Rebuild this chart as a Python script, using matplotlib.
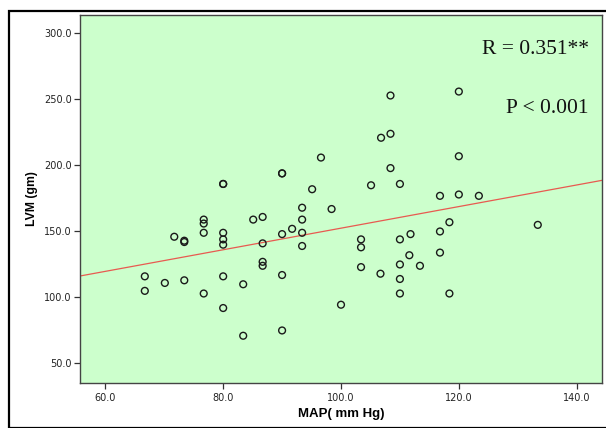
import matplotlib
matplotlib.use("Agg")
import matplotlib.pyplot as plt
from matplotlib.patches import Rectangle

# Data
map_mmhg = [66.7, 66.7, 70.1, 71.7, 73.4, 73.4, 73.4, 76.7, 76.7, 76.7, 76.7,
            80.0, 80.0, 80.0, 80.0, 80.0, 80.0, 80.0, 83.4, 83.4, 85.1, 86.7,
            86.7, 86.7, 86.7, 90.0, 90.0, 90.0, 90.0, 90.0, 91.7, 93.4, 93.4,
            93.4, 93.4, 95.1, 96.6, 98.4, 100.0, 103.4, 103.4, 103.4, 105.1,
            106.7, 106.8, 108.4, 108.4, 108.4, 110.0, 110.0, 110.0, 110.0,
            110.0, 111.8, 111.6, 113.4, 116.8, 116.8, 116.8, 118.4, 118.4,
            120.0, 120.0, 120.0, 123.4, 133.4]
lvm_gm = [116.0, 105.0, 111.0, 146.0, 143.0, 142.0, 113.0, 159.0, 156.0, 149.0, 103.0,
          186.0, 186.0, 149.0, 144.0, 140.0, 116.0, 92.0, 71.0, 110.0, 159.0, 161.0,
          141.0, 127.0, 124.0, 194.0, 194.0, 148.0, 117.0, 75.0, 152.0, 168.0, 159.0,
          149.0, 139.0, 182.0, 206.0, 167.0, 94.5, 144.0, 138.0, 123.0, 185.0,
          118.0, 221.0, 253.0, 224.0, 198.0, 186.0, 144.0, 125.0, 114.0,
          103.0, 148.0, 132.0, 124.0, 177.0, 150.0, 134.0, 157.0, 103.0,
          256.0, 207.0, 178.0, 177.0, 155.0]

fit_intercept = 70.7
fit_slope = 0.818

x_ticks = [60.0, 80.0, 100.0, 120.0, 140.0]
y_ticks = [50.0, 100.0, 150.0, 200.0, 250.0, 300.0]
x_label = "MAP( mm Hg)"
y_label = "LVM (gm)"
r_text = "R = 0.351**"
p_text = "P < 0.001"

W, H = 606, 428
fig = plt.figure(figsize=(W / 100, H / 100), dpi=100)
fig.patch.set_facecolor("white")

# outer frame
fig.patches.append(Rectangle((8.7 / W, 0), 1.2, 1 - 10.5 / H, transform=fig.transFigure,
                             fill=False, edgecolor="black", linewidth=1.6, zorder=0))

ax = fig.add_axes([80 / W, 1 - 383 / H, 522 / W, 368 / H])
ax.set_facecolor("#ccffcc")
ax.set_xlim(55.7, 144.3)
ax.set_ylim(35.2, 314.0)

xs = [ax.get_xlim()[0], ax.get_xlim()[1]]
ax.plot(xs, [fit_intercept + fit_slope * v for v in xs], color="#e85a50", lw=0.9, zorder=2)

ax.scatter(map_mmhg, lvm_gm, s=24, facecolors="none", edgecolors="#1a1a1a",
           linewidths=1.0, zorder=3)

ax.set_xticks(x_ticks)
ax.set_yticks(y_ticks)
ax.set_xticklabels([f"{v:.1f}" for v in x_ticks])
ax.set_yticklabels([f"{v:.1f}" for v in y_ticks])
ax.tick_params(direction="out", length=4.5, width=0.9, color="#333333",
               labelsize=7, labelcolor="#222222", pad=1.5)
ax.tick_params(axis="x", pad=2.5)
ax.tick_params(top=False, right=False)
for s in ax.spines.values():
    s.set_color("#444444")
    s.set_linewidth(1.0)

fig.text(341 / W, 1 - 414 / H, x_label, ha="center", va="center",
         fontsize=9.5, fontweight="bold", family="Liberation Sans")
fig.text(32.5 / W, 1 - 198.5 / H, y_label, ha="center", va="center", rotation=90,
         fontsize=8.8, fontweight="bold", family="Liberation Sans")

ax.text(0.975, 0.893, r_text, transform=ax.transAxes, ha="right", va="baseline",
        fontsize=15.5, family="Liberation Serif", color="#111111")
ax.text(0.975, 0.733, p_text, transform=ax.transAxes, ha="right", va="baseline",
        fontsize=15.5, family="Liberation Serif", color="#111111")

fig.savefig("out.png", dpi=100)
